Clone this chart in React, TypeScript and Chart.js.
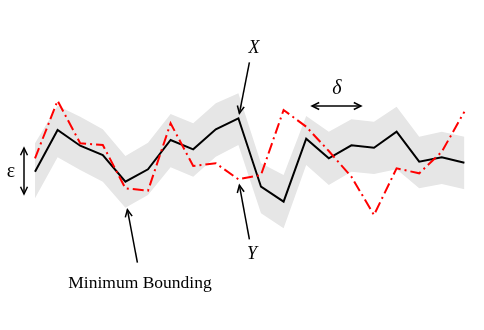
import React, { useEffect, useRef } from "react";
import { Chart, registerables } from "chart.js";

Chart.register(...registerables);

// sample index along the time axis
const indices = [0, 1, 2, 3, 4, 5, 6, 7, 8, 9, 10, 11, 12, 13, 14, 15, 16, 17, 18, 19];
// series X (black solid)
const seriesX = [15.83, 20.0, 18.43, 17.5, 14.83, 16.07, 19.0, 18.07, 20.07, 21.17, 14.33, 12.83, 19.13, 17.17, 18.47, 18.23, 19.83, 16.83, 17.27, 16.73];
// series Y (red dash-dot)
const seriesY = [17.17, 22.93, 18.67, 18.5, 14.17, 13.93, 20.67, 16.4, 16.67, 15.07, 15.5, 22.0, 20.33, 17.9, 15.33, 11.5, 16.17, 15.67, 17.83, 21.83];
// minimum bounding envelope
const boundUpper = [18.67, 22.43, 21.33, 20.07, 17.4, 18.73, 21.6, 20.67, 22.67, 23.67, 16.67, 15.5, 21.4, 19.83, 21.07, 20.83, 22.33, 19.33, 19.83, 19.33];
const boundLower = [13.17, 17.27, 16.0, 14.83, 12.23, 13.5, 16.27, 15.33, 17.33, 18.5, 11.67, 10.17, 16.5, 14.5, 15.83, 15.6, 16.07, 14.17, 14.6, 14.07];

const labelX = "X";
const labelY = "Y";
const labelDelta = "δ";
const labelEps = "ε";
const labelBound = "Minimum Bounding";

function arrowHead(ctx: CanvasRenderingContext2D, fx: number, fy: number, tx: number, ty: number) {
  const ang = Math.atan2(ty - fy, tx - fx);
  const len = 8;
  const spread = 0.45;
  ctx.beginPath();
  ctx.moveTo(tx - len * Math.cos(ang - spread), ty - len * Math.sin(ang - spread));
  ctx.lineTo(tx, ty);
  ctx.lineTo(tx - len * Math.cos(ang + spread), ty - len * Math.sin(ang + spread));
  ctx.stroke();
}

function arrow(ctx: CanvasRenderingContext2D, fx: number, fy: number, tx: number, ty: number, both = false) {
  ctx.beginPath();
  ctx.moveTo(fx, fy);
  ctx.lineTo(tx, ty);
  ctx.stroke();
  arrowHead(ctx, fx, fy, tx, ty);
  if (both) arrowHead(ctx, tx, ty, fx, fy);
}

const annotationPlugin = {
  id: "annots",
  afterDraw(chart: any) {
    const ctx: CanvasRenderingContext2D = chart.ctx;
    const xs = chart.scales.x;
    const ys = chart.scales.y;
    ctx.save();
    ctx.strokeStyle = "#000";
    ctx.fillStyle = "#000";
    ctx.lineWidth = 1.5;
    ctx.lineJoin = "miter";
    ctx.setLineDash([]);
    // X arrow pointing at X[9]
    const xpx = xs.getPixelForValue(indices[9]);
    const xpy = ys.getPixelForValue(seriesX[9]);
    arrow(ctx, xpx + 11, xpy - 56, xpx + 1, xpy - 5);
    // Y arrow pointing at Y[9]
    const ypy = ys.getPixelForValue(seriesY[9]);
    arrow(ctx, xpx + 11, ypy + 60, xpx + 1, ypy + 6);
    // Minimum bounding arrow pointing at lower[4]
    const bpx = xs.getPixelForValue(indices[4]);
    const bpy = ys.getPixelForValue(boundLower[4]);
    arrow(ctx, bpx + 12, bpy + 55, bpx + 2, bpy + 2);
    // delta double arrow
    arrow(ctx, 312, 106, 361, 106, true);
    // epsilon double arrow
    arrow(ctx, 24, 148, 24, 194, true);

    ctx.textAlign = "center";
    ctx.textBaseline = "middle";
    ctx.font = "italic 18px 'Liberation Serif', 'Times New Roman', serif";
    ctx.fillText(labelX, 254, 48);
    ctx.fillText(labelY, 252, 254);
    ctx.font = "italic 20px 'Liberation Serif', 'Times New Roman', serif";
    ctx.fillText(labelDelta, 337, 89);
    ctx.font = "20px 'Liberation Serif', 'Times New Roman', serif";
    ctx.fillText(labelEps, 11, 172);
    ctx.font = "17.5px 'Liberation Serif', 'Times New Roman', serif";
    ctx.fillText(labelBound, 140, 283);
    ctx.restore();
  },
};

export default function App() {
  const ref = useRef<HTMLCanvasElement | null>(null);
  useEffect(() => {
    if (!ref.current) return;
    const mk = (arr: number[]) => indices.map((i, k) => ({ x: i, y: arr[k] }));
    const chart = new Chart(ref.current, {
      type: "line",
      data: {
        datasets: [
          {
            label: "Y",
            data: mk(seriesY),
            borderColor: "#ff0000",
            borderWidth: 2,
            borderDash: [11, 4, 2, 4],
            pointRadius: 0,
            fill: false,
            tension: 0,
          },
          {
            label: "X",
            data: mk(seriesX),
            borderColor: "#000000",
            borderWidth: 2,
            pointRadius: 0,
            fill: false,
            tension: 0,
          },
          {
            label: "upper",
            data: mk(boundUpper),
            borderColor: "rgba(0,0,0,0)",
            borderWidth: 0,
            backgroundColor: "#e6e6e6",
            pointRadius: 0,
            fill: "+1",
            tension: 0,
          },
          {
            label: "lower",
            data: mk(boundLower),
            borderColor: "rgba(0,0,0,0)",
            borderWidth: 0,
            pointRadius: 0,
            fill: false,
            tension: 0,
          },
        ],
      },
      options: {
        animation: false,
        responsive: false,
        maintainAspectRatio: false,
        layout: { padding: 0 },
        plugins: { legend: { display: false }, tooltip: { enabled: false } },
        scales: {
          x: { type: "linear", display: false, min: -35 / 22.6, max: (484 - 35) / 22.6 },
          y: { type: "linear", display: false, min: 0, max: 33 },
        },
      },
      plugins: [annotationPlugin],
    });
    return () => chart.destroy();
  }, []);
  return (
    <div style={{ position: "absolute", left: 0, top: 0, width: 484, height: 330, background: "#fff" }}>
      <canvas ref={ref} width={484} height={330} />
    </div>
  );
}
